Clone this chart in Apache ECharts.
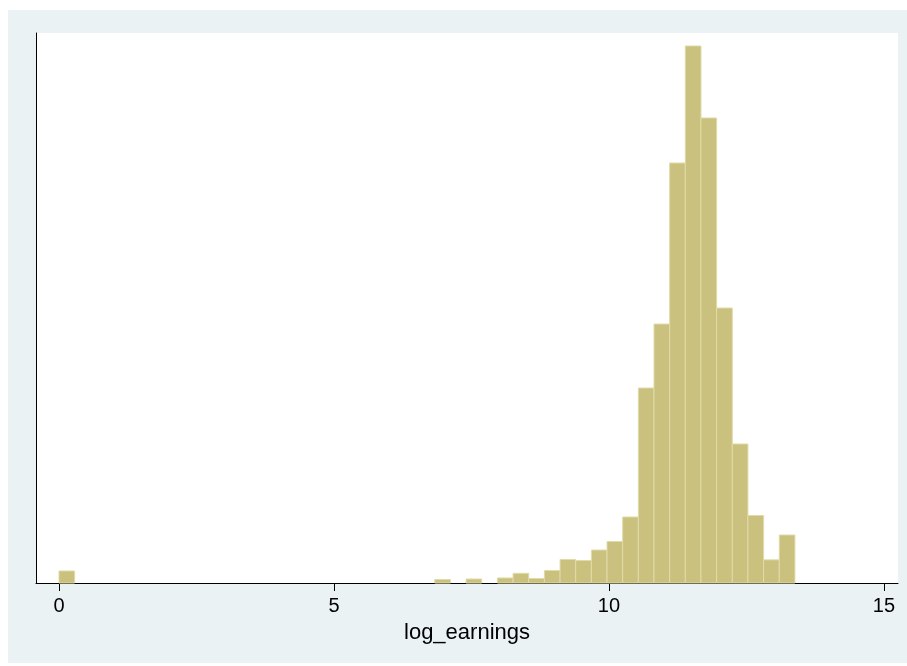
<!DOCTYPE html>
<html>
<head>
<meta charset="utf-8">
<script src="https://cdn.jsdelivr.net/npm/echarts@6/dist/echarts.min.js"></script>
<style>
html,body{margin:0;padding:0;background:#fff;}
#chart{width:907px;height:666px;}
</style>
</head>
<body>
<div id="chart"></div>
<script>
// Histogram of log_earnings: 47 bins starting at 0
var binStart = 0;
var binWidth = 0.2847;
var binIndex = [0, 24, 26, 28, 29, 30, 31, 32, 33, 34, 35, 36, 37, 38, 39, 40, 41, 42, 43, 44, 45, 46];
var density  = [0.0175, 0.0051, 0.0058, 0.0073, 0.0141, 0.0065, 0.0182, 0.0342, 0.0327, 0.0480, 0.0604, 0.0960, 0.2836, 0.3767, 0.6109, 0.7811, 0.6764, 0.4000, 0.2022, 0.0982, 0.0337, 0.0698];
var xTicks = [0, 5, 10, 15];
var xTitle = 'log_earnings';

var data = binIndex.map(function (k, i) {
  return [binStart + k * binWidth, binStart + (k + 1) * binWidth, density[i]];
});

var chart = echarts.init(document.getElementById('chart'));
chart.setOption({
  animation: false,
  backgroundColor: '#ffffff',
  graphic: [{
    type: 'rect', z: -10, silent: true,
    shape: {x: 8, y: 10, width: 899, height: 653},
    style: {fill: '#eaf2f3'}
  }],
  grid: {left: 36, right: 9, top: 33, bottom: 83, show: true, backgroundColor: '#ffffff', borderWidth: 0},
  xAxis: {
    type: 'value', min: -0.418, max: 15.255,
    splitLine: {show: false},
    axisLine: {show: true, onZero: false, lineStyle: {color: '#000', width: 1}},
    axisTick: {show: true, length: 8, lineStyle: {color: '#000'}, customValues: xTicks},
    axisLabel: {show: true, customValues: xTicks, color: '#000', fontSize: 20, fontFamily: 'Liberation Sans', margin: 13,
      formatter: function (v) { return String(v); }},
    name: xTitle, nameLocation: 'middle', nameGap: 39,
    nameTextStyle: {color: '#000', fontSize: 22, fontFamily: 'Liberation Sans'}
  },
  yAxis: {
    type: 'value', min: 0, max: 0.8,
    splitLine: {show: false},
    axisLine: {show: true, onZero: false, lineStyle: {color: '#000', width: 1}},
    axisTick: {show: false},
    axisLabel: {show: false}
  },
  series: [{
    type: 'custom',
    data: data,
    renderItem: function (params, api) {
      var p0 = api.coord([api.value(0), api.value(2)]);
      var p1 = api.coord([api.value(1), 0]);
      return {
        type: 'rect',
        shape: {x: p0[0], y: p0[1], width: p1[0] - p0[0], height: p1[1] - p0[1]},
        style: {fill: '#c9c17d', stroke: '#e0dba9', lineWidth: 1}
      };
    },
    encode: {x: [0, 1], y: 2}
  }]
});
</script>
</body>
</html>
